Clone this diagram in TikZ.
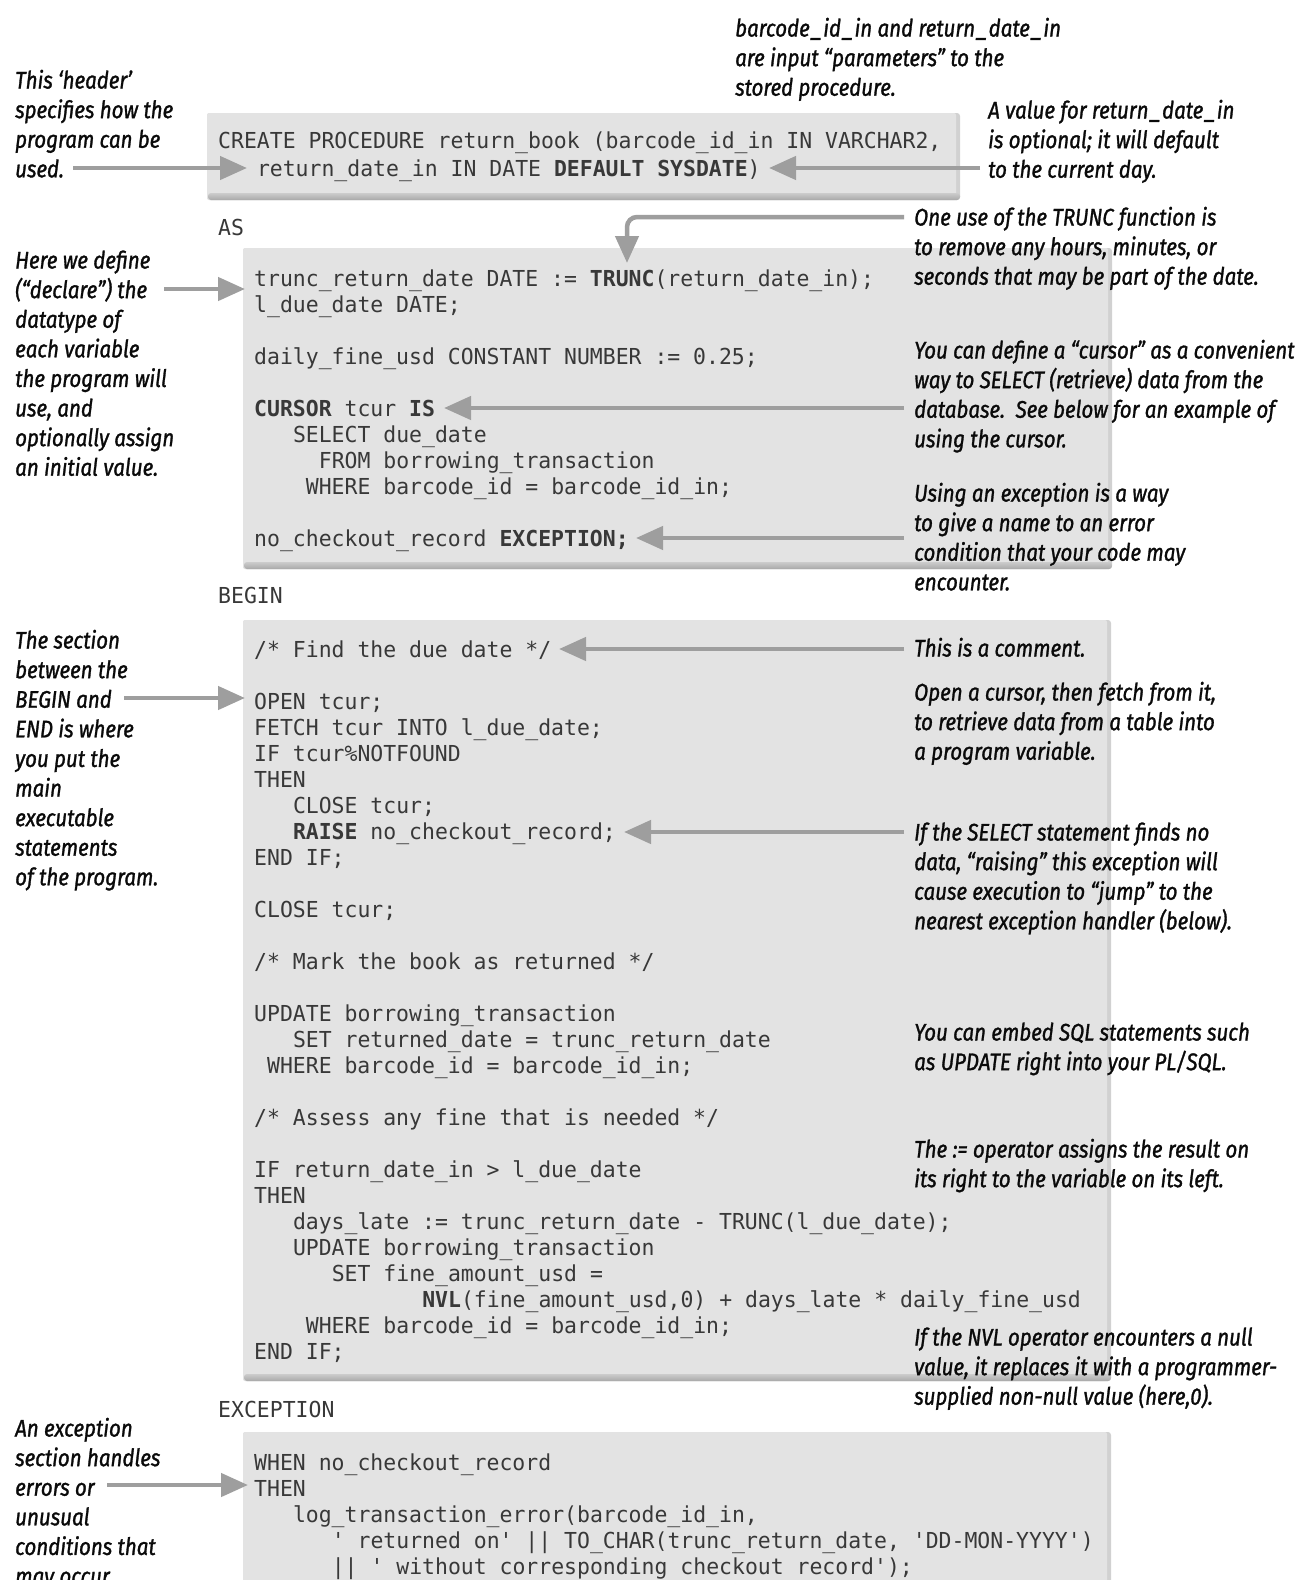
\documentclass[tikz,border=0pt]{standalone}
\usepackage{fontspec}
\usetikzlibrary{arrows.meta}

\newfontfamily\codefont{DejaVu Sans Mono}[FakeStretch=0.975,Ligatures=TeXOff]
\newfontfamily\notefont{Fira Sans}[FakeStretch=0.855,FakeBold=1.2]
% a slightly wider low line for the margin notes
\newcommand\noteus{\kern1.5pt\_\kern1.5pt}

\definecolor{boxfill}{gray}{0.89}
\definecolor{boxedge}{gray}{0.82}
\definecolor{boxshade}{gray}{0.66}
\definecolor{shadetop}{gray}{0.80}
\definecolor{arrowgray}{gray}{0.62}
\definecolor{codegray}{gray}{0.22}
\definecolor{notegray}{gray}{0.04}

\tikzset{
  code/.style={anchor=base west, inner sep=0pt, text=codegray,
    font=\codefont\frenchspacing\fontsize{22}{26}\selectfont},
  note/.style={anchor=north west, inner sep=0pt, align=left, text=notegray,
    font=\notefont\itshape\fontsize{24}{29.6}\selectfont},
  callout/.style={draw=arrowgray, line width=4.5pt,
    -{Triangle[length=27pt,width=23pt]}},
  boxedgefill/.style={fill=boxedge, rounded corners=3pt},
  boxbody/.style={fill=boxfill, rounded corners=2pt},
  boxbottom/.style={top color=shadetop, bottom color=boxshade, rounded corners=3pt},
}

\begin{document}
\begin{tikzpicture}[x=1pt,y=-1pt]
\useasboundingbox (0,0) rectangle (1297,1580);
\fill[white] (0,0) rectangle (1297,1580);
\clip (0,0) rectangle (1297,1580);

% ---- shaded code panels ----
% header
\fill[boxedgefill] (207,113) rectangle (960,200);
\fill[boxbody] (207,113) rectangle (956,200);
\shade[boxbottom] (208,193) rectangle (960,200);
% declarations
\fill[boxedgefill] (243,248) rectangle (1112,569);
\fill[boxbody] (243,248) rectangle (1108,569);
\shade[boxbottom] (244,562) rectangle (1112,569);
% executable section
\fill[boxedgefill] (243,620) rectangle (1111,1381);
\fill[boxbody] (243,620) rectangle (1107,1381);
\shade[boxbottom] (244,1374) rectangle (1111,1381);
% exception section
\fill[boxedgefill] (243,1432) rectangle (1111,1620);
\fill[boxbody] (243,1432) rectangle (1107,1620);

% ---- code ----
\node[code] (h1) at (218,148) {CREATE PROCEDURE return\_book (barcode\_id\_in IN VARCHAR2,};
\node[code] (h2) at (256.8,176) {return\_date\_in IN DATE \textbf{DEFAULT SYSDATE})};

\node[code] (kAS) at (218,235) {AS};

\node[code] (d1) at (254,286) {trunc\_return\_date DATE := \textbf{TRUNC}(return\_date\_in);};
\node[code] (d2) at (254,312) {l\_due\_date DATE;};
\node[code] (d3) at (254,364) {daily\_fine\_usd CONSTANT NUMBER := 0.25;};
\node[code] (d4) at (254,416) {\textbf{CURSOR} tcur \textbf{IS}};
\node[code] (d5) at (292.8,442) {SELECT due\_date};
\node[code] (d6) at (318.7,468) {FROM borrowing\_transaction};
\node[code] (d7) at (305.7,494) {WHERE barcode\_id = barcode\_id\_in;};
\node[code] (d8) at (254,546) {no\_checkout\_record \textbf{EXCEPTION;}};

\node[code] (kBEGIN) at (218,603) {BEGIN};

\node[code] (e1) at (254,657) {/* Find the due date */};
\node[code] (e2) at (254,709) {OPEN tcur;};
\node[code] (e3) at (254,735) {FETCH tcur INTO l\_due\_date;};
\node[code] (e4) at (254,761) {IF tcur\%NOTFOUND};
\node[code] (e5) at (254,787) {THEN};
\node[code] (e6) at (292.8,813) {CLOSE tcur;};
\node[code] (e7) at (292.8,839) {\textbf{RAISE} no\_checkout\_record;};
\node[code] (e8) at (254,865) {END IF;};
\node[code] (e9) at (254,917) {CLOSE tcur;};
\node[code] (e10) at (254,969) {/* Mark the book as returned */};
\node[code] (e11) at (254,1021) {UPDATE borrowing\_transaction};
\node[code] (e12) at (292.8,1047) {SET returned\_date = trunc\_return\_date};
\node[code] (e13) at (266.9,1073) {WHERE barcode\_id = barcode\_id\_in;};
\node[code] (e14) at (254,1125) {/* Assess any fine that is needed */};
\node[code] (e15) at (254,1177) {IF return\_date\_in > l\_due\_date};
\node[code] (e16) at (254,1203) {THEN};
\node[code] (e17) at (292.8,1229) {days\_late := trunc\_return\_date - TRUNC(l\_due\_date);};
\node[code] (e18) at (292.8,1255) {UPDATE borrowing\_transaction};
\node[code] (e19) at (331.6,1281) {SET fine\_amount\_usd =};
\node[code] (e20) at (422.1,1307) {\textbf{NVL}(fine\_amount\_usd,0) + days\_late * daily\_fine\_usd};
\node[code] (e21) at (305.7,1333) {WHERE barcode\_id = barcode\_id\_in;};
\node[code] (e22) at (254,1359) {END IF;};

\node[code] (kEXC) at (218,1417) {EXCEPTION};

\node[code] (x1) at (254,1470) {WHEN no\_checkout\_record};
\node[code] (x2) at (254,1496) {THEN};
\node[code] (x3) at (292.8,1522) {log\_transaction\_error(barcode\_id\_in,};
\node[code] (x4) at (331.6,1548) {' returned on' || TO\_CHAR(trunc\_return\_date, 'DD-MON-YYYY')};
\node[code] (x5) at (331.6,1574) {|| ' without corresponding checkout record');};

% ---- connector end points ----
\coordinate (a1s) at (73,168);    \coordinate (a1t) at (247,168);
\coordinate (a2s) at (980,168);   \coordinate (a2t) at (769,168);
\coordinate (a3s) at (904,217);   \coordinate (a3t) at (627,263);
\coordinate (a4s) at (164,289);   \coordinate (a4t) at (245,289);
\coordinate (a5s) at (904,408);   \coordinate (a5t) at (444,408);
\coordinate (a6s) at (904,538);   \coordinate (a6t) at (636,538);
\coordinate (a7s) at (124,698);   \coordinate (a7t) at (245,698);
\coordinate (a8s) at (904,649);   \coordinate (a8t) at (559,649);
\coordinate (a9s) at (904,832);   \coordinate (a9t) at (624,832);
\coordinate (a10s) at (107,1485); \coordinate (a10t) at (248,1485);

\draw[callout] (a1s) -- (a1t);
\draw[callout] (a2s) -- (a2t);
\draw[callout, rounded corners=10pt] (a3s) -| (a3t);
\draw[callout] (a4s) -- (a4t);
\draw[callout] (a5s) -- (a5t);
\draw[callout] (a6s) -- (a6t);
\draw[callout] (a7s) -- (a7t);
\draw[callout] (a8s) -- (a8t);
\draw[callout] (a9s) -- (a9t);
\draw[callout] (a10s) -- (a10t);

% ---- margin notes, left ----
\node[note] (nHeader) at (15,67.6) {\strut This ‘header’\\specifies how the\\program can be\\used.};
\node[note] (nDeclare) at (15,247.6) {\strut Here we define\\(“declare”) the\\datatype of\\each variable\\the program will\\use, and\\optionally assign\\an initial value.};
\node[note] (nBegin) at (15,627.6) {\strut The section\\between the\\BEGIN and\\END is where\\you put the\\main\\executable\\statements\\of the program.};
\node[note] (nExc) at (15,1415.6) {\strut An exception\\section handles\\errors or\\unusual\\conditions that\\may occur.};

% ---- margin notes, right ----
\node[note] (nParams) at (735,15.6) {\strut barcode\noteus id\noteus in and return\noteus date\noteus in\\are input “parameters” to the\\stored procedure.};
\node[note] (nDefault) at (988,97.6) {\strut A value for return\noteus date\noteus in\\is optional; it will default\\to the current day.};
\node[note] (nTrunc) at (914,204.6) {\strut One use of the TRUNC function is\\to remove any hours, minutes, or\\seconds that may be part of the date.};
\node[note] (nCursor) at (914,337.6) {\strut You can define a “cursor” as a convenient\\way to SELECT (retrieve) data from the\\database.\ \ See below for an example of\\using the cursor.};
\node[note] (nExcDecl) at (914,480.6) {\strut Using an exception is a way\\to give a name to an error\\condition that your code may\\encounter.};
\node[note] (nComment) at (914,635.6) {\strut This is a comment.};
\node[note] (nOpen) at (914,679.6) {\strut Open a cursor, then fetch from it,\\to retrieve data from a table into\\a program variable.};
\node[note] (nRaise) at (914,819.6) {\strut If the SELECT statement finds no\\data, “raising” this exception will\\cause execution to “jump” to the\\nearest exception handler (below).};
\node[note] (nSQL) at (914,1019.6) {\strut You can embed SQL statements such\\as UPDATE right into your PL/SQL.};
\node[note] (nAssign) at (914,1136.6) {\strut The := operator assigns the result on\\its right to the variable on its left.};
\node[note] (nNVL) at (914,1324.6) {\strut If the NVL operator encounters a null\\value, it replaces it with a programmer-\\supplied non-null value (here,0).};
\end{tikzpicture}
\end{document}
